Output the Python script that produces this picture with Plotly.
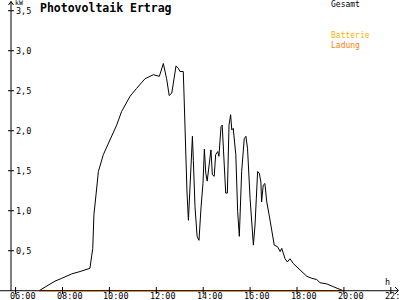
import plotly.graph_objects as go

# ---- data ----
hours = [7.00, 7.47, 7.68, 7.97, 8.39, 8.75, 9.17, 9.29, 9.34, 9.43, 9.53, 9.74,
         10.03, 10.31, 10.52, 10.88, 11.16, 11.52, 11.87, 12.13, 12.30, 12.44,
         12.55, 12.66, 12.84, 12.94, 13.01, 13.15, 13.18, 13.22, 13.27, 13.31,
         13.37, 13.44, 13.54, 13.58, 13.65, 13.74, 13.82, 13.91, 13.99, 14.05,
         14.11, 14.17, 14.28, 14.33, 14.39, 14.47, 14.53, 14.62, 14.67, 14.76,
         14.81, 14.90, 14.96, 15.03, 15.10, 15.17, 15.22, 15.28, 15.39, 15.47,
         15.54, 15.64, 15.75, 15.82, 15.89, 16.00, 16.07, 16.14, 16.21, 16.32,
         16.39, 16.46, 16.49, 16.56, 16.63, 16.71, 16.81, 16.92, 17.03, 17.17,
         17.28, 17.35, 17.49, 17.59, 17.70, 17.84, 18.13, 18.42, 18.63, 18.84,
         18.98, 19.27, 19.55, 19.97]
gesamt = [0.0, 0.08, 0.12, 0.155, 0.21, 0.24, 0.28, 0.53, 0.95, 1.20, 1.49, 1.70,
          1.90, 2.07, 2.24, 2.43, 2.53, 2.65, 2.70, 2.68, 2.84, 2.65,
          2.44, 2.47, 2.81, 2.78, 2.74, 2.74, 2.47, 2.05, 1.55, 1.22,
          0.88, 1.34, 1.93, 1.63, 1.05, 0.68, 0.63, 1.05, 1.34, 1.77,
          1.47, 1.37, 1.70, 1.76, 1.45, 1.43, 1.70, 1.74, 1.68, 2.05,
          2.07, 1.49, 1.22, 1.22, 2.07, 2.20, 2.01, 2.03, 1.70, 0.99,
          0.68, 1.49, 1.90, 1.93, 1.78, 1.15, 0.82, 0.57, 0.82, 1.49,
          1.47, 1.36, 1.11, 1.32, 1.34, 1.11, 0.95, 0.74, 0.57, 0.55,
          0.49, 0.53, 0.40, 0.36, 0.40, 0.34, 0.26, 0.18, 0.155, 0.14,
          0.10, 0.085, 0.05, 0.0]
ladung_hours = [7.00, 20.00]
ladung = [0.0, 0.0]

x_tick_vals = [6, 8, 10, 12, 14, 16, 18, 20, 22]
x_tick_text = ["06:00", "08:00", "10:00", "12:00", "14:00", "16:00", "18:00", "20:00", "22:00"]
y_tick_vals = [0.5, 1.0, 1.5, 2.0, 2.5, 3.0, 3.5]
y_tick_text = ["0,5", "1,0", "1,5", "2,0", "2,5", "3,0", "3,5"]

title = "Photovoltaik Ertrag"
legend_names = ["Gesamt", "Batterie", "Ladung"]
legend_colors = ["#000000", "#ffb000", "#ff7f00"]

W, H = 400, 300
X_RANGE = [5.335, 22.392]
Y_RANGE = [-0.116, 3.634]
MONO = "DejaVu Sans Mono"

fig = go.Figure()
fig.add_trace(go.Scatter(x=hours, y=gesamt, mode="lines",
                         line=dict(color="#000000", width=1), name="Gesamt",
                         hoverinfo="skip"))
fig.add_trace(go.Scatter(x=ladung_hours, y=ladung, mode="lines",
                         line=dict(color="#ff7f00", width=1.5), name="Ladung",
                         hoverinfo="skip"))

def px(p):
    return p / W

def py(p):
    return 1 - p / H

shapes = []
line_k = dict(color="#000000", width=1)
# axes lines
shapes.append(dict(type="line", xref="paper", yref="paper", x0=px(11), x1=px(11),
                   y0=py(291), y1=py(1.5), line=line_k))
shapes.append(dict(type="line", xref="paper", yref="y", x0=px(0), x1=px(398),
                   y0=0, y1=0, line=line_k))
# arrows
shapes.append(dict(type="path", xref="paper", yref="paper",
                   path=f"M {px(8.5)},{py(5)} L {px(11)},{py(1.5)} L {px(13.5)},{py(5)}",
                   line=line_k))
shapes.append(dict(type="path", xref="paper", yref="paper",
                   path=f"M {px(395)},{py(287)} L {px(398.5)},{py(290.5)} L {px(395)},{py(294)}",
                   line=line_k))
# y ticks
for v in y_tick_vals:
    shapes.append(dict(type="line", xref="paper", yref="y", x0=px(8), x1=px(14),
                       y0=v, y1=v, line=line_k))
# x ticks
for v in x_tick_vals:
    shapes.append(dict(type="line", xref="x", yref="paper", x0=v, x1=v,
                       y0=py(287), y1=py(294), line=line_k))

ann = []
for v, t in zip(y_tick_vals, y_tick_text):
    ann.append(dict(x=px(15), y=v, xref="paper", yref="y", text=t, showarrow=False,
                    xanchor="left", yanchor="middle", borderpad=0,
                    font=dict(family=MONO, size=8.5, color="#000000")))
for v, t in zip(x_tick_vals, x_tick_text):
    ann.append(dict(x=v, y=py(296), xref="x", yref="paper", text=t, showarrow=False,
                    xanchor="left", yanchor="middle", xshift=-7, borderpad=0,
                    font=dict(family=MONO, size=8.5, color="#000000")))
ann.append(dict(x=px(14), y=py(3), xref="paper", yref="paper", text="kW",
                showarrow=False, xanchor="left", yanchor="middle", borderpad=0,
                font=dict(family=MONO, size=6.5, color="#000000")))
ann.append(dict(x=px(387), y=py(282), xref="paper", yref="paper", text="h",
                showarrow=False, xanchor="center", yanchor="middle", borderpad=0,
                font=dict(family=MONO, size=8.5, color="#000000")))
ann.append(dict(x=px(39), y=py(7.5), xref="paper", yref="paper", text=f"<b>{title}</b>",
                showarrow=False, xanchor="left", yanchor="middle", borderpad=0,
                font=dict(family=MONO, size=11.5, color="#000000")))
legend_y = [4.5, 35.5, 45]
for name, col, yy in zip(legend_names, legend_colors, legend_y):
    ann.append(dict(x=px(329.5), y=py(yy), xref="paper", yref="paper", text=name,
                    showarrow=False, xanchor="left", yanchor="middle", borderpad=0,
                    font=dict(family=MONO, size=8, color=col)))

fig.update_layout(
    width=W, height=H,
    margin=dict(l=0, r=0, t=0, b=0),
    paper_bgcolor="#ffffff", plot_bgcolor="#ffffff",
    showlegend=False,
    xaxis=dict(range=X_RANGE, visible=False, fixedrange=True),
    yaxis=dict(range=Y_RANGE, visible=False, fixedrange=True),
    shapes=shapes, annotations=ann,
)
fig.write_html("out.html", config={"displayModeBar": False})
